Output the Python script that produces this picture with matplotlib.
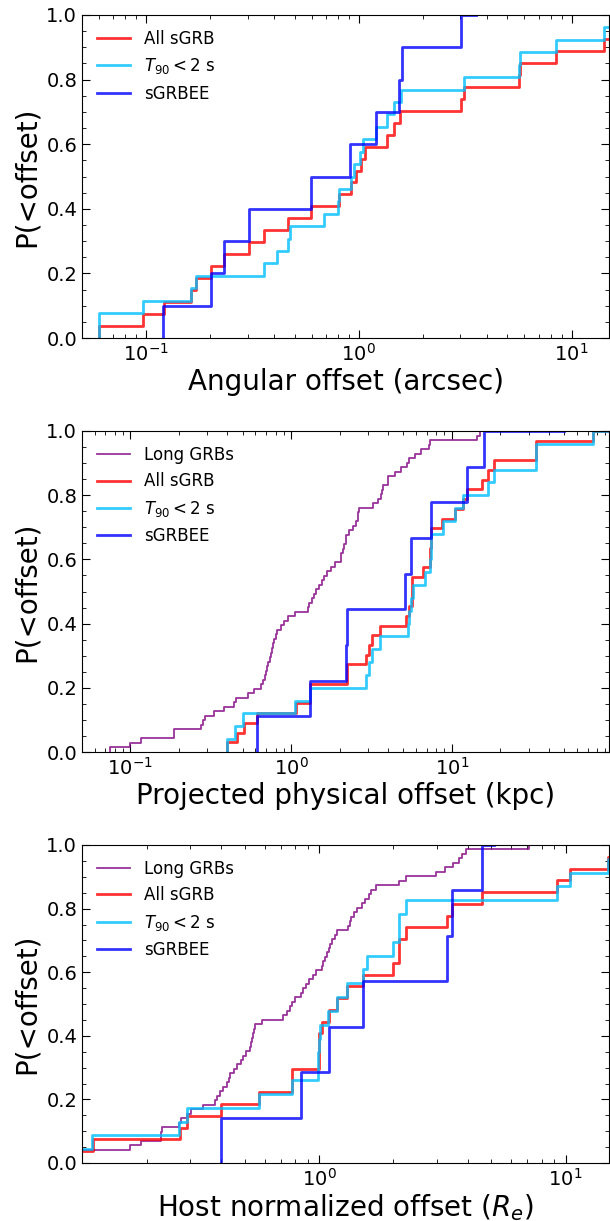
import numpy as np
import matplotlib
matplotlib.use("Agg")
import matplotlib.pyplot as plt
from matplotlib.ticker import MultipleLocator

# Sorted offsets. The CDF jumps at every value except the
# last one, which only marks where the flat top of the curve ends.

# Angular offset (arcsec)
ang_all = [0.060, 0.097, 0.121, 0.162, 0.172, 0.202, 0.232, 0.304, 0.360, 0.467,
           0.594, 0.811, 0.920, 0.974, 1.02, 1.07, 1.35, 1.47, 1.57, 3.02,
           3.13, 5.68, 5.74, 8.43, 14.2, 18.0, 25.0, 30.0]
ang_t90 = [0.060, 0.060, 0.097, 0.162, 0.172, 0.360, 0.414, 0.467, 0.475, 0.689,
           0.796, 0.810, 0.920, 0.948, 1.008, 1.046, 1.21, 1.35, 1.47, 1.58,
           3.11, 5.68, 5.74, 8.43, 14.2, 15.5, 30.0]
ang_ee = [0.120, 0.202, 0.232, 0.304, 0.594, 0.910, 1.21, 1.55, 1.59, 3.02, 3.55]

# Projected physical offset (kpc)
phys_long = [0.0748, 0.100, 0.116, 0.186, 0.188, 0.274, 0.282, 0.290, 0.330, 0.380,
             0.440, 0.452, 0.537, 0.590, 0.650, 0.665, 0.685, 0.700, 0.710, 0.720,
             0.735, 0.745, 0.760, 0.770, 0.785, 0.800, 0.820, 0.860, 0.900, 0.950,
             1.05, 1.265, 1.29, 1.34, 1.39, 1.43, 1.49, 1.55, 1.60, 1.68,
             1.77, 1.87, 2.03, 2.05, 2.10, 2.12, 2.18, 2.20, 2.30, 2.41,
             2.53, 2.59, 2.62, 2.64, 3.22, 3.46, 3.63, 3.70, 3.74, 3.98,
             4.02, 4.40, 4.85, 5.26, 5.41, 5.87, 6.47, 7.25, 7.35, 14.3,
             15.0, 40.0]
phys_all = [0.40, 0.459, 0.51, 0.61, 1.07, 1.31, 1.31, 2.24, 2.24, 2.92,
            3.04, 3.19, 3.55, 5.16, 5.42, 5.68, 5.68, 5.68, 6.62, 7.30,
            7.35, 7.40, 7.45, 8.63, 10.5, 11.8, 12.4, 15.4, 16.7, 18.2,
            33.2, 33.2, 75.3, 100.0]
phys_t90 = [0.40, 0.448, 0.505, 1.06, 1.32, 2.92, 3.04, 3.19, 3.55, 5.34,
            5.45, 5.60, 5.70, 6.79, 7.30, 7.40, 7.45, 8.77, 10.5, 11.7,
            16.7, 18.2, 33.2, 33.3, 76.0, 100.0]
phys_ee = [0.61, 1.31, 2.20, 2.22, 5.10, 5.57, 7.37, 12.4, 15.9, 50.0]

# Host normalized offset (R_e)
host_long = [0.080, 0.090, 0.100, 0.170, 0.190, 0.228, 0.229, 0.230, 0.269, 0.275,
             0.290, 0.301, 0.339, 0.376, 0.386, 0.395, 0.408, 0.422, 0.430, 0.436,
             0.451, 0.466, 0.481, 0.492, 0.505, 0.522, 0.530, 0.536, 0.540, 0.543,
             0.548, 0.586, 0.713, 0.737, 0.762, 0.779, 0.800, 0.840, 0.860, 0.883,
             0.912, 0.943, 0.968, 1.023, 1.04, 1.057, 1.075, 1.093, 1.11, 1.129,
             1.155, 1.186, 1.309, 1.33, 1.343, 1.388, 1.42, 1.49, 1.54, 1.59,
             1.62, 1.70, 2.11, 2.25, 2.97, 3.23, 3.48, 3.68, 3.80, 3.93,
             7.08, 7.70]
host_all = [0.10, 0.121, 0.272, 0.291, 0.40, 0.572, 0.772, 0.775, 0.995, 1.0,
            1.0, 1.03, 1.10, 1.18, 1.30, 1.50, 2.00, 2.11, 2.11, 2.26,
            3.29, 3.47, 4.59, 9.26, 10.4, 14.9, 18.0, 25.0]
host_t90 = [0.10, 0.12, 0.269, 0.291, 0.572, 0.772, 0.985, 0.99, 0.995, 1.01,
            1.09, 1.18, 1.30, 1.50, 1.57, 2.00, 2.11, 2.11, 2.26, 9.26,
            10.4, 14.9, 18.0, 25.0]
host_ee = [0.40, 0.84, 1.10, 1.50, 3.29, 3.47, 4.59, 5.10]

xlabels = ["Angular offset (arcsec)", "Projected physical offset (kpc)",
           r"Host normalized offset ($R_e$)"]
xlims = [(0.05, 15.0), (0.05, 95.0), (0.109, 15.0)]

panels = [
    [(ang_all, "All sGRB"), (ang_t90, r"$T_{90} < 2$ s"), (ang_ee, "sGRBEE")],
    [(phys_long, "Long GRBs"), (phys_all, "All sGRB"), (phys_t90, r"$T_{90} < 2$ s"), (phys_ee, "sGRBEE")],
    [(host_long, "Long GRBs"), (host_all, "All sGRB"), (host_t90, r"$T_{90} < 2$ s"), (host_ee, "sGRBEE")],
]
styles = {"Long GRBs": ("purple", 1.3), "All sGRB": ("red", 2.0),
          r"$T_{90} < 2$ s": ("deepskyblue", 2.0), "sGRBEE": ("blue", 2.0)}

fig = plt.figure(figsize=(6.10, 12.21), dpi=100)
tops = [15, 431, 845]
bottoms = [338, 752, 1163]

for i, series in enumerate(panels):
    ax = fig.add_axes([82 / 610, 1 - bottoms[i] / 1221, 527 / 610, (bottoms[i] - tops[i]) / 1221])
    for x, lab in series:
        x = np.asarray(x)
        y = np.arange(len(x)) / (len(x) - 1)
        c, lw = styles[lab]
        ax.step(x, y, where="pre", color=c, lw=lw, alpha=0.8, label=lab)
    ax.set_xscale("log")
    ax.set_xlim(*xlims[i])
    ax.set_ylim(0, 1)
    ax.yaxis.set_major_locator(MultipleLocator(0.2))
    ax.yaxis.set_minor_locator(MultipleLocator(0.05))
    ax.tick_params(which="both", direction="in", top=True, right=True, labelsize=14)
    ax.tick_params(which="major", length=6)
    ax.tick_params(which="minor", length=3)
    ax.set_xlabel(xlabels[i], fontsize=20, labelpad=2)
    ax.set_ylabel("P(<offset)", fontsize=20)
    ax.legend(loc="upper left", frameon=False, fontsize=12)

fig.savefig("out.png", dpi=100)
